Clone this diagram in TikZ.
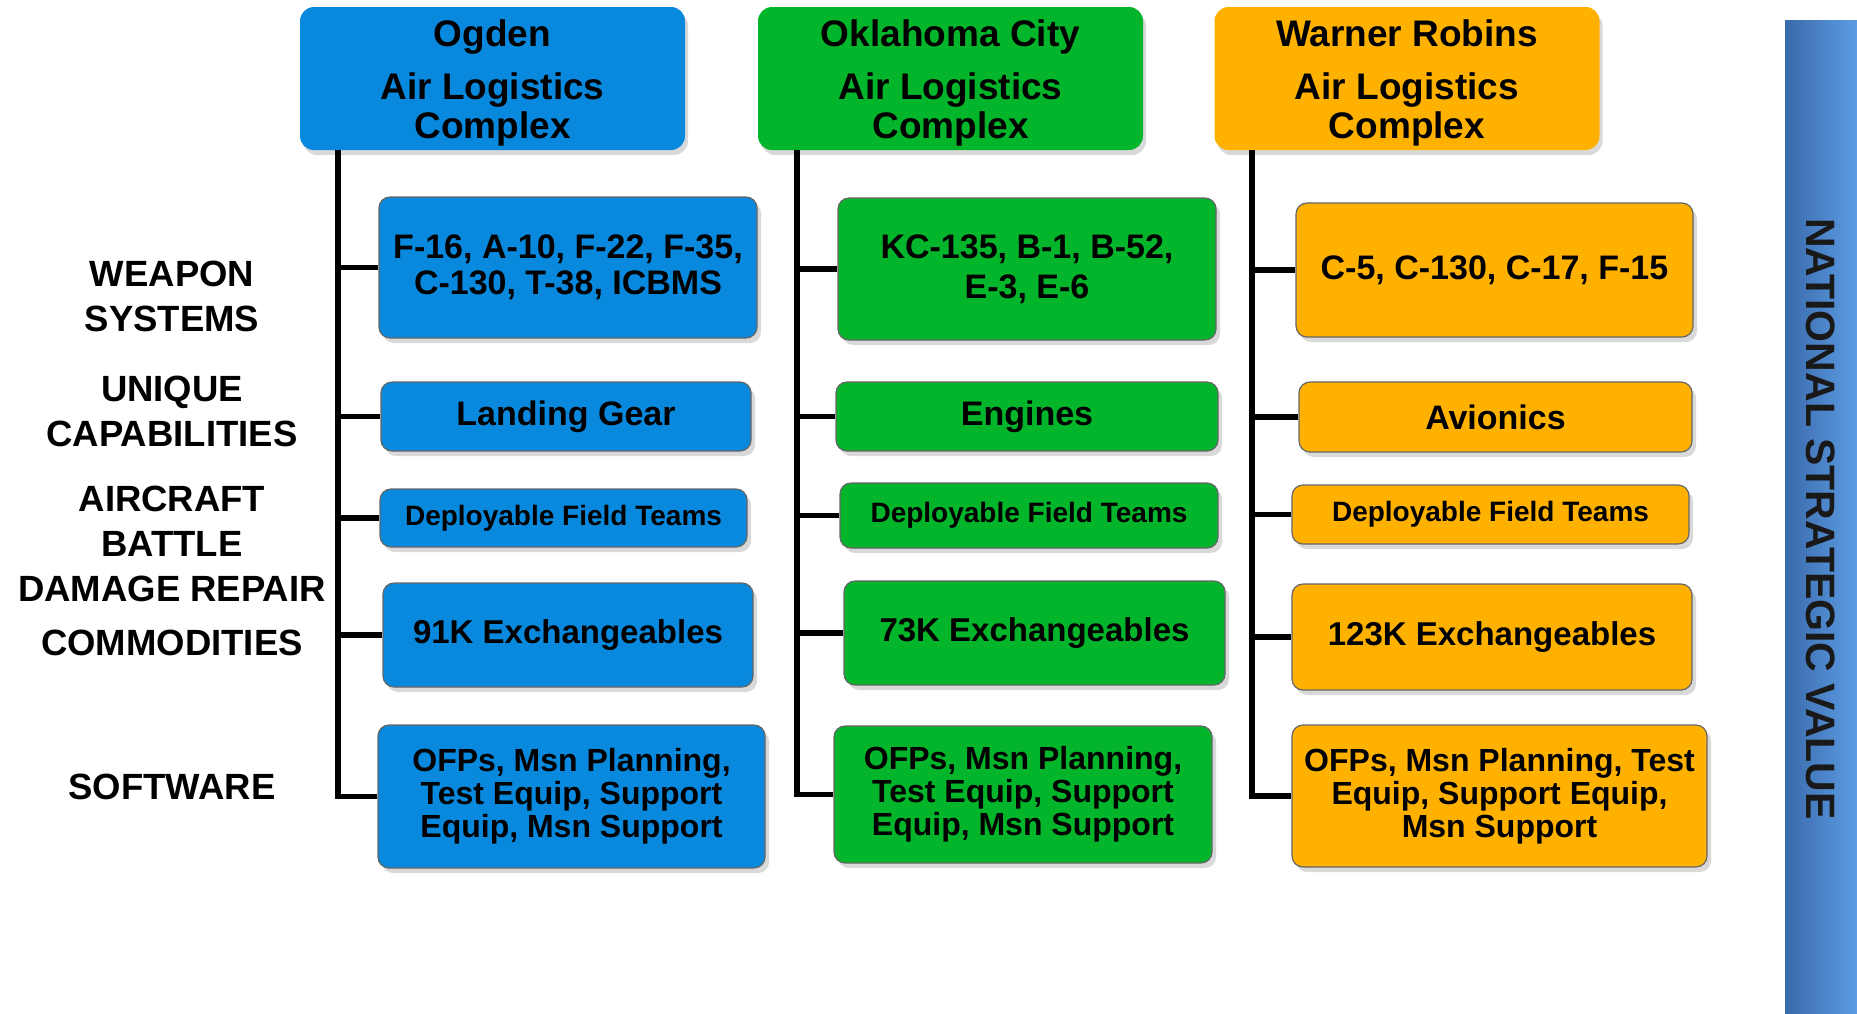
\documentclass[tikz,border=0pt]{standalone}
\usepackage{fontspec}
\setmainfont{Liberation Sans}
\usetikzlibrary{shadows}
\definecolor{ogdblue}{RGB}{8,137,221}
\definecolor{okcgreen}{RGB}{3,181,43}
\definecolor{wrorange}{RGB}{255,177,0}
\definecolor{barleft}{RGB}{58,106,170}
\definecolor{barright}{RGB}{92,156,228}
\begin{document}
\begin{tikzpicture}[x=1pt, y=-1pt,
    hdr/.style={rounded corners=14pt, fill=#1, minimum width=385pt, minimum height=143pt,
      inner sep=0pt, align=center, font=\fontsize{37}{39}\selectfont\bfseries,
      drop shadow={shadow xshift=3pt, shadow yshift=-5pt, opacity=.3}},
    item/.style={rounded corners=11pt, fill=#1, draw=black!60, line width=1.2pt,
      inner sep=0pt, align=center, font=\fontsize{34}{36}\selectfont\bfseries,
      drop shadow={shadow xshift=4pt, shadow yshift=-5pt, opacity=.3}},
    dft/.style={font=\fontsize{28}{30}\selectfont\bfseries},
    exch/.style={font=\fontsize{33}{35}\selectfont\bfseries},
    soft/.style={font=\fontsize{32}{33}\selectfont\bfseries},
    side/.style={align=center, font=\fontsize{36.5}{45}\selectfont\bfseries},
    trunk/.style={line width=5.5pt}]
  \useasboundingbox (0,0) rectangle (1857,1013);

  \node[hdr=ogdblue] (ogd) at (492.5,78.5) {\rule{0pt}{35pt}Ogden\\[14pt]Air Logistics\\Complex};
  \node[hdr=okcgreen] (okc) at (950.5,78.5) {\rule{0pt}{35pt}Oklahoma City\\[14pt]Air Logistics\\Complex};
  \node[hdr=wrorange] (wr) at (1407,78.5) {\rule{0pt}{35pt}Warner Robins\\[14pt]Air Logistics\\Complex};

  \node[side] (lWs) at (172,296) {WEAPON\\SYSTEMS};
  \node[side] (lUc) at (172,411.5) {UNIQUE\\CAPABILITIES};
  \node[side] (lBd) at (172,543.5) {AIRCRAFT\\BATTLE\\DAMAGE REPAIR};
  \node[side] (lCm) at (172,643) {COMMODITIES};
  \node[side] (lSw) at (172,786.5) {SOFTWARE};

  \node[item=ogdblue, minimum width=378pt, minimum height=141pt] (ogdWs) at (568,267.5) {F-16, A-10, F-22, F-35,\\C-130, T-38, ICBMS};
  \node[item=ogdblue, minimum width=370pt, minimum height=69pt] (ogdUc) at (566,416.5) {Landing Gear};
  \node[item=ogdblue, dft, minimum width=367pt, minimum height=58pt] (ogdDf) at (563.5,518) {Deployable Field Teams};
  \node[item=ogdblue, exch, minimum width=370pt, minimum height=104pt] (ogdCm) at (568,635) {91K Exchangeables};
  \node[item=ogdblue, soft, minimum width=387pt, minimum height=143pt] (ogdSw) at (571.5,796.5) {OFPs, Msn Planning,\\Test Equip, Support\\Equip, Msn Support};

  \node[item=okcgreen, minimum width=378pt, minimum height=142pt] (okcWs) at (1027,269) {KC-135, B-1, B-52,\\[4pt]E-3, E-6};
  \node[item=okcgreen, minimum width=382pt, minimum height=69pt] (okcUc) at (1027,416.5) {Engines};
  \node[item=okcgreen, dft, minimum width=378pt, minimum height=65pt] (okcDf) at (1029,515.5) {Deployable Field Teams};
  \node[item=okcgreen, exch, minimum width=381pt, minimum height=104pt] (okcCm) at (1034.5,633) {73K Exchangeables};
  \node[item=okcgreen, soft, minimum width=378pt, minimum height=137pt] (okcSw) at (1023,794.5) {OFPs, Msn Planning,\\Test Equip, Support\\Equip, Msn Support};

  \node[item=wrorange, minimum width=397pt, minimum height=134pt] (wrWs) at (1494.5,270) {C-5, C-130, C-17, F-15};
  \node[item=wrorange, minimum width=393pt, minimum height=70pt] (wrUc) at (1495.5,417) {Avionics};
  \node[item=wrorange, dft, minimum width=397pt, minimum height=59pt] (wrDf) at (1490.5,514.5) {Deployable Field Teams};
  \node[item=wrorange, exch, minimum width=400pt, minimum height=106pt] (wrCm) at (1492,637) {123K Exchangeables};
  \node[item=wrorange, soft, minimum width=415pt, minimum height=142pt] (wrSw) at (1499.5,796) {OFPs, Msn Planning, Test\\Equip, Support Equip,\\Msn Support};

  \coordinate (ogdT) at (338,150);
  \coordinate (okcT) at (797,150);
  \coordinate (wrT) at (1252,150);
  \foreach \c in {Ws,Uc,Df,Cm,Sw} {
    \draw[trunk] (ogdT) |- (ogd\c.west);
    \draw[trunk] (okcT) |- (okc\c.west);
    \draw[trunk] (wrT) |- (wr\c.west);
  }

  \shade[left color=barleft, right color=barright] (1785,20) rectangle (1857,1013);
  \node[rotate=-90, text=black!90, font=\fontsize{41}{41}\selectfont\bfseries] (nsv) at (1821,519) {NATIONAL STRATEGIC VALUE};
\end{tikzpicture}
\end{document}
